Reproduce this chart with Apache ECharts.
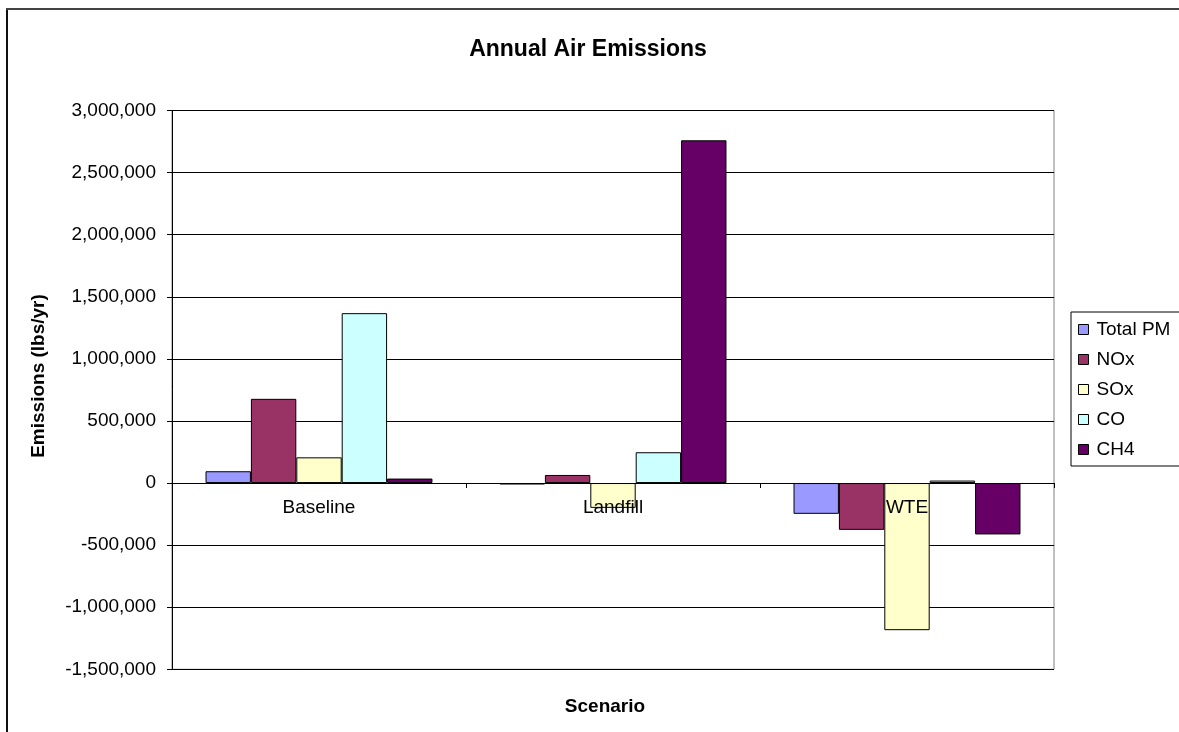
<!DOCTYPE html>
<html>
<head>
<meta charset="utf-8">
<script src="https://cdn.jsdelivr.net/npm/echarts@6/dist/echarts.min.js"></script>
<style>
html,body{margin:0;padding:0;background:#fff;}
#chart{width:1179px;height:732px;}
</style>
</head>
<body>
<div id="chart"></div>
<script>
const categories = ['Baseline', 'Landfill', 'WTE'];
const seriesNames = ['Total PM', 'NOx', 'SOx', 'CO', 'CH4'];
const totalPM = [95000, -12000, -248000];
const nox = [678000, 65000, -377000];
const sox = [207000, -200000, -1185000];
const co = [1368000, 248000, 20000];
const ch4 = [36000, 2760000, -414000];
const seriesColors = ['#9999FF', '#993366', '#FFFFCC', '#CCFFFF', '#660066'];
const yMin = -1500000, yMax = 3000000, yStep = 500000;

const FONT = "'Liberation Sans', Arial, sans-serif";
const values = [totalPM, nox, sox, co, ch4];

const gridTop = 110.5, gridBottom = 62.7, chartH = 732;
const plotH = chartH - gridTop - gridBottom;
const zeroOffset = -((0 - yMin) / (yMax - yMin)) * plotH;

const chart = echarts.init(document.getElementById('chart'), null, {renderer: 'canvas'});
chart.setOption({
  animation: false,
  backgroundColor: '#fff',
  textStyle: {fontFamily: FONT, color: '#000'},
  title: [
    {text: 'Annual Air Emissions', left: 583, top: 33, textAlign: 'center',
     textStyle: {fontFamily: FONT, fontSize: 23, fontWeight: 'bold', color: '#000'}},
    {text: 'Scenario', left: 600, top: 692, textAlign: 'center',
     textStyle: {fontFamily: FONT, fontSize: 19, fontWeight: 'bold', color: '#000'}}
  ],
  grid: {left: 172, right: 125, top: gridTop, bottom: gridBottom, show: true,
         borderColor: '#808080', borderWidth: 1, backgroundColor: '#fff'},
  legend: {
    orient: 'vertical', left: 1071, top: 312,
    itemWidth: 10, itemHeight: 10, itemGap: 11,
    icon: 'rect',
    padding: [8, 30, 7, 7],
    borderColor: '#000', borderWidth: 1,
    backgroundColor: '#fff',
    itemStyle: {borderColor: '#000', borderWidth: 1},
    textStyle: {fontFamily: FONT, fontSize: 19, lineHeight: 19, color: '#000', padding: [0, 0, 0, 3]},
    data: seriesNames
  },
  xAxis: [
    {
      type: 'category', data: categories, z: 10,
      axisLine: {onZero: true, lineStyle: {color: '#000', width: 1}},
      axisTick: {show: true, length: 5, lineStyle: {color: '#000'}},
      axisLabel: {show: false},
      splitLine: {show: false}
    },
    {
      type: 'category', data: categories, position: 'bottom', offset: zeroOffset, z: 10,
      axisLine: {show: false}, axisTick: {show: false}, splitLine: {show: false},
      axisLabel: {fontFamily: FONT, fontSize: 19, color: '#000', margin: 15}
    }
  ],
  yAxis: {
    type: 'value', min: yMin, max: yMax, interval: yStep,
    axisLine: {show: true, lineStyle: {color: '#000', width: 1}},
    axisTick: {show: true, length: 5, lineStyle: {color: '#000'}},
    axisLabel: {fontFamily: FONT, fontSize: 19, color: '#000', margin: 16,
      formatter: v => v.toLocaleString('en-US')},
    splitLine: {show: true, lineStyle: {color: '#000', width: 1}}
  },
  graphic: [
    {type: 'line', shape: {x1: 7, y1: 8, x2: 7, y2: 732}, style: {stroke: '#111', lineWidth: 2}},
    {type: 'line', shape: {x1: 6, y1: 9, x2: 1179, y2: 9}, style: {stroke: '#444', lineWidth: 2}},
    {type: 'text', x: 38.5, y: 376, rotation: Math.PI / 2,
     style: {text: 'Emissions (lbs/yr)', font: "bold 19px 'Liberation Sans', Arial, sans-serif",
             fill: '#000', textAlign: 'center', textVerticalAlign: 'middle'}}
  ],
  series: seriesNames.map((name, i) => ({
    name: name, type: 'bar', data: values[i], xAxisIndex: 0,
    barGap: '0%', barCategoryGap: '22.8%',
    itemStyle: {color: seriesColors[i], borderColor: '#000', borderWidth: 1}
  }))
});
</script>
</body>
</html>
